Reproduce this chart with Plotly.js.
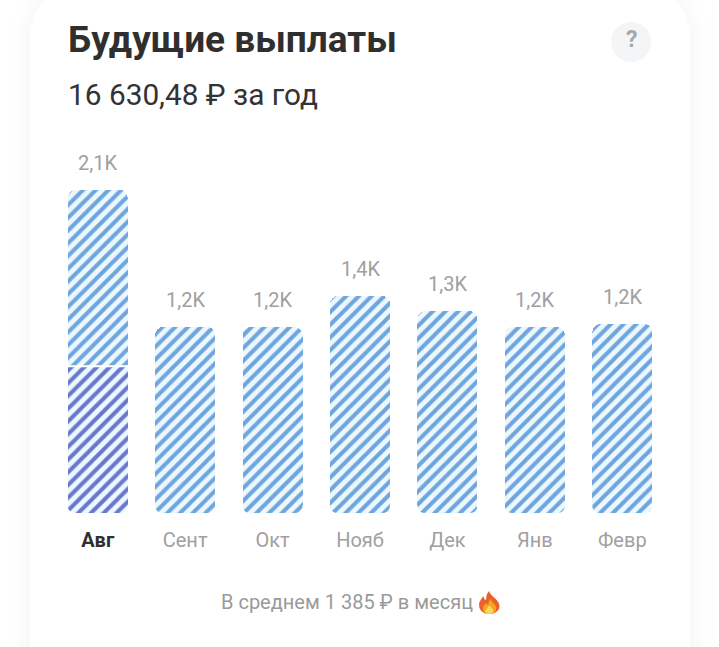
<!DOCTYPE html>
<html><head><meta charset="utf-8">
<script src="https://cdn.plot.ly/plotly-3.0.1.min.js"></script>
<style>
html,body{margin:0;padding:0;background:#fff;overflow:hidden}
#card{position:absolute;left:30px;top:-10px;width:660px;height:760px;background:#fff;border-radius:44px;box-shadow:0 0 26px rgba(0,0,0,.055)}
#chart{position:absolute;left:0;top:0;width:719px;height:647px}
</style></head><body>
<div id="card"></div><div id="chart"></div>
<script>
const months=['Авг','Сент','Окт','Нояб','Дек','Янв','Февр'];
const received=[942,0,0,0,0,0,0];
const upcoming=[1142,1200,1200,1400,1303,1200,1219];
const labels=['2,1K','1,2K','1,2K','1,4K','1,3K','1,2K','1,2K'];
const titleText='<b>Будущие выплаты</b>';
const subtitleText='16 630,48 ₽ за год';
const noteText='В среднем 1 385 ₽ в месяц';

const W=719,H=647,L=53.5,R=666,T=130,B=513,YMAX=2471;
const totals=months.map((_,i)=>received[i]+upcoming[i]);
const barW=1-0.314;
const px=x=>(x-L)/(R-L), py=y=>(B-y)/(B-T);
const rx=8/87.5, ry=8*YMAX/(B-T);
const shapes=[];
// bottom rounded corners
months.forEach((_,i)=>{
  const a=i-barW/2,b=i+barW/2;
  shapes.push({type:'path',xref:'x',yref:'y',layer:'above',line:{width:0},fillcolor:'#fff',
    path:`M${a-0.01},-5 L${a+rx},-5 L${a+rx},0 Q${a},0 ${a},${ry} L${a-0.01},${ry} Z`});
  shapes.push({type:'path',xref:'x',yref:'y',layer:'above',line:{width:0},fillcolor:'#fff',
    path:`M${b+0.01},-5 L${b-rx},-5 L${b-rx},0 Q${b},0 ${b},${ry} L${b+0.01},${ry} Z`});
});
// separator between the two Aug segments
shapes.push({type:'line',xref:'x',yref:'y',x0:-barW/2,x1:barW/2,y0:received[0]+4,y1:received[0]+4,line:{color:'#fff',width:2},layer:'above'});
// help button
shapes.push({type:'circle',xref:'paper',yref:'paper',x0:px(611),x1:px(651),y0:py(62),y1:py(22),fillcolor:'#f3f5f6',line:{width:0}});
// flame icon
const P=(pts,c)=>({type:'path',xref:'paper',yref:'paper',fillcolor:c,line:{width:0},layer:'above',
  path:pts.map(s=>typeof s==='string'?s:`${px(s[0])},${py(s[1])}`).join(' ')});
shapes.push(P(['M',[489,591],'C',[490,596],[497,598],[499,604],'C',[501,610],[495,614],[489,614],'C',[483,614],[478,610],[479,603],'C',[480,600],[482,598],[483,596],'C',[484,599],[485,600],[486,600],'C',[486,597],[486,594],[489,591],'Z'],'#e8622a'));
shapes.push(P(['M',[490,599],'C',[491,602],[496,604],[496,608],'C',[496,612],[493,614],[489,614],'C',[485,614],[482,611],[483,607],'C',[484,605],[485,604],[486,603],'C',[487,604],[487,605],[488,605],'C',[488,603],[489,601],[490,599],'Z'],'#f5a623'));
shapes.push(P(['M',[489,605],'C',[490,607],[493,608],[493,611],'C',[493,613],[491,614],[489,614],'C',[487,614],[485,613],[485,611],'C',[485,609],[488,608],[489,605],'Z'],'#fbd75b'));

const pat=(fg)=>({shape:'/',size:9,solidity:0.45,fgcolor:fg,bgcolor:'#ecf8fe',fillmode:'replace'});
const traces=[
 {type:'bar',x:months.map((_,i)=>i),y:received,marker:{color:'#ecf8fe',pattern:pat('#6a78cc'),line:{width:0}},hoverinfo:'skip',showlegend:false},
 {type:'bar',x:months.map((_,i)=>i),y:upcoming,marker:{color:'#ecf8fe',pattern:pat('#6fa5dd'),line:{width:0}},hoverinfo:'skip',showlegend:false}
];
const ann=(x,y,text,size,color,anchor,extra)=>Object.assign({xref:'paper',yref:'paper',x:px(x),y:py(y),text,showarrow:false,xanchor:anchor||'left',yanchor:'middle',borderpad:0,borderwidth:0,font:{family:'Roboto',size,color}},extra||{});
const annotations=[
 ann(68,40,titleText,37,'#2f2f2f'),
 ann(68,94,subtitleText,29.8,'#333333'),
 ann(631.5,40,'<b>?</b>',23,'#a4a9ae','center'),
 ann(473,602,noteText,20,'#9a9a9a','right')
];
months.forEach((_,i)=>annotations.push({xref:'x',yref:'y',x:i,y:totals[i],text:labels[i],showarrow:false,yanchor:'bottom',yshift:13,font:{family:'Roboto',size:20,color:'#a0a0a0'}}));
const layout={width:W,height:H,margin:{l:L,r:W-R,t:T,b:H-B,pad:0},paper_bgcolor:'rgba(0,0,0,0)',plot_bgcolor:'rgba(0,0,0,0)',
 barmode:'stack',bargap:0.314,barcornerradius:8,showlegend:false,
 xaxis:{range:[-0.5,6.5],tickmode:'array',tickvals:months.map((_,i)=>i),ticktext:months.map((m,i)=>i===0?`<b><span style="color:#2f2f2f">${m}</span></b>`:m),ticks:'',ticklen:0,ticklabelstandoff:13,showline:false,showgrid:false,zeroline:false,tickfont:{family:'Roboto',size:20,color:'#a0a0a0'}},
 yaxis:{range:[0,YMAX],visible:false,showgrid:false,zeroline:false},
 shapes,annotations};
Plotly.newPlot('chart',traces,layout,{displayModeBar:false,staticPlot:true});
</script></body></html>
